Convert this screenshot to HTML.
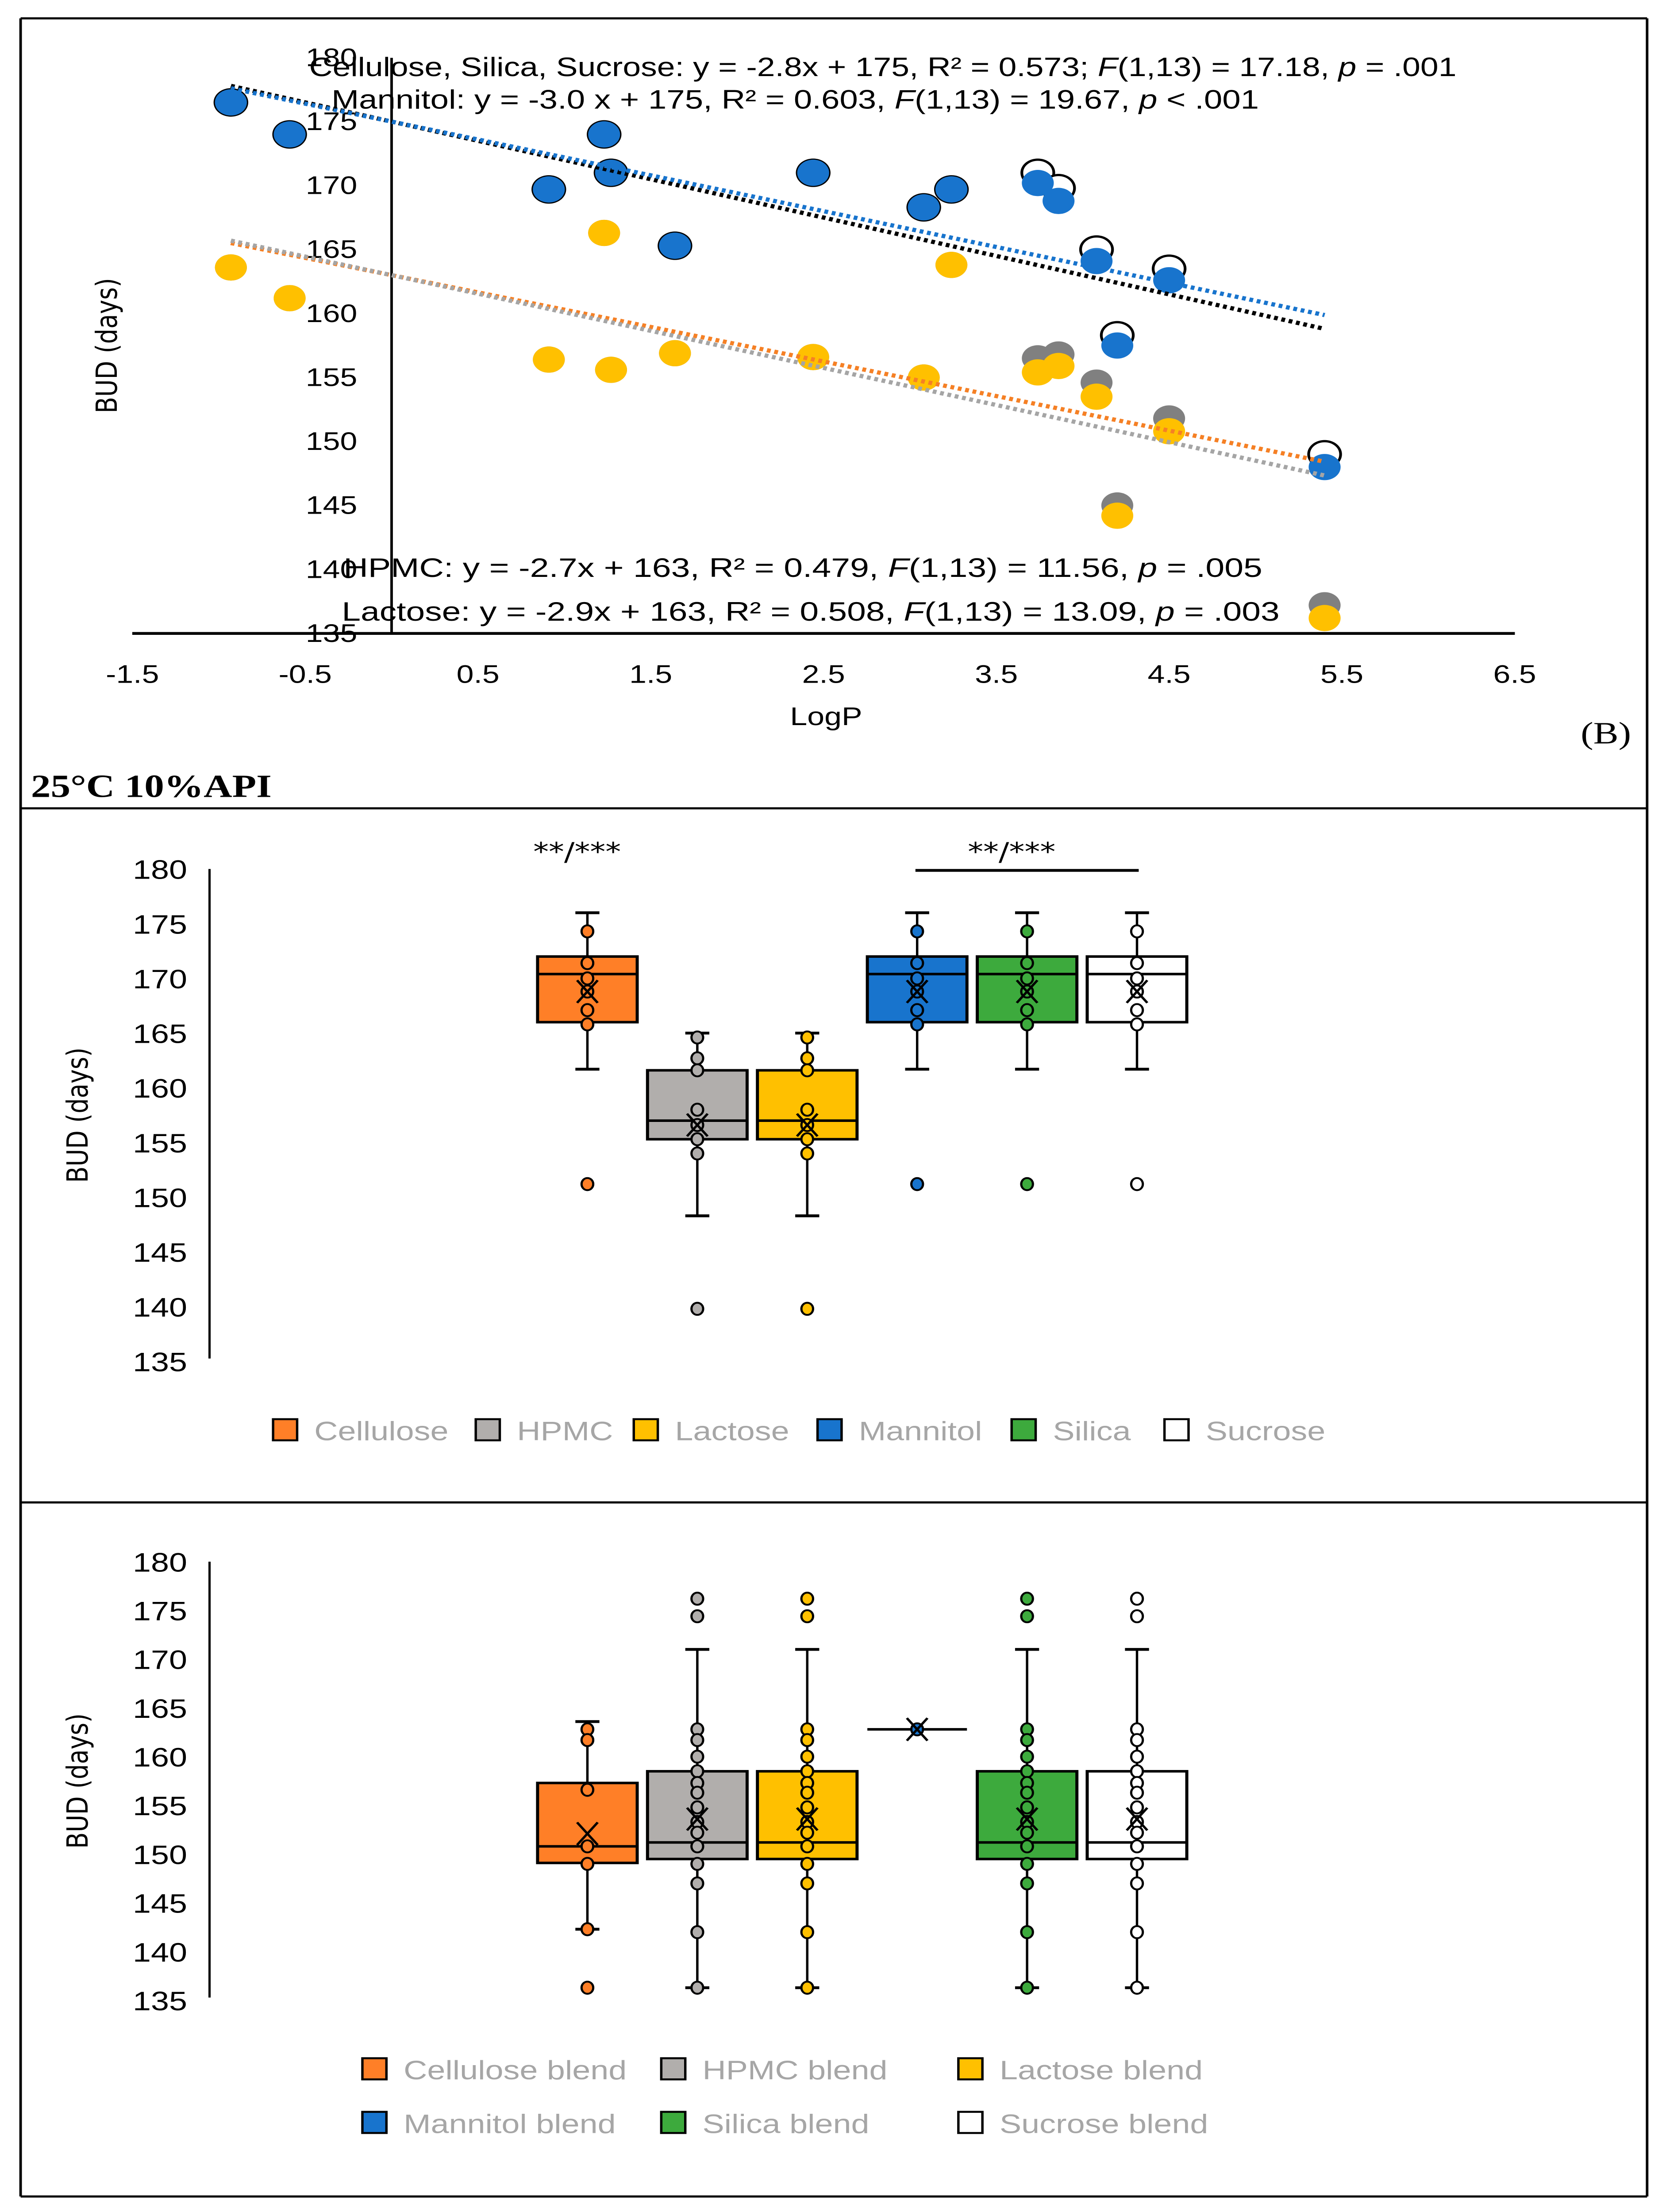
<!DOCTYPE html>
<html><head><meta charset="utf-8"><style>
html,body{margin:0;padding:0;background:#fff;width:100vw;height:100vh;overflow:hidden}
svg{display:block;width:100vw;height:100vh;position:absolute;left:0;top:0}
text{font-family:"Liberation Sans Narrow","Liberation Sans",sans-serif}
</style></head><body>
<svg id="s" viewBox="0 0 970 1568" preserveAspectRatio="none" xmlns="http://www.w3.org/2000/svg">
<rect x="0" y="0" width="970" height="1568" fill="#fff"/>
<g stroke="#000" stroke-width="1.5" fill="none">
<line x1="12" y1="13" x2="959" y2="13"/><line x1="12" y1="13" x2="12" y2="1557"/><line x1="959" y1="13" x2="959" y2="1557"/>
<line x1="12" y1="573" x2="959" y2="573"/><line x1="12" y1="1065" x2="959" y2="1065"/><line x1="12" y1="1557" x2="959" y2="1557"/>
</g>
<g id="scatter"></g>
<text x="935" y="527" font-size="22" text-anchor="middle" style="font-family:'Liberation Serif',serif">(B)</text>
<text x="18" y="565" font-size="23" font-weight="bold" style="font-family:'Liberation Serif',serif">25°C 10%API</text>
<g id="box1"></g>
<g id="box2"></g>
</svg>
<script>
// ---------- scatter data ----------
const logP = [-0.93,-0.59,0.91,1.23,1.27,1.64,2.44,3.08,3.24,3.74,3.86,4.08,4.2,4.5,5.4];
const mannitolBUD = [176.5,174,169.7,174,171,165.3,171,168.3,169.7,170.2,168.8,164.1,157.5,162.6,148];
const sucroseBUD  = [176.5,174,169.7,174,171,165.3,171,168.3,169.7,171,169.8,165,158.3,163.5,149];
const lactoseBUD  = [163.6,161.2,156.4,166.3,155.6,156.9,156.6,155,163.8,155.4,155.9,153.5,144.2,150.8,136.2];
const hpmcBUD     = [163.6,161.2,156.4,166.3,155.6,156.9,156.6,155,163.8,156.5,156.8,154.6,145,151.8,137.2];
const xTicks = [-1.5,-0.5,0.5,1.5,2.5,3.5,4.5,5.5,6.5];
const yTicksScatter = [135,140,145,150,155,160,165,170,175,180];
const trendSlopes = [-3.0,-2.8,-2.7,-2.9];
const trendIntercepts = [175,175,163,163];
const trendColors = ['#000','#1874CD','#F58025','#A5A5A5'];
const trendNames = ['trendline-cellulose-silica-sucrose','trendline-mannitol','trendline-hpmc','trendline-lactose'];

const NS='http://www.w3.org/2000/svg';
function mk(parent,tag,attrs,txt){const e=document.createElementNS(NS,tag);for(const k in attrs)e.setAttribute(k,attrs[k]);if(txt!==undefined)e.textContent=txt;parent.appendChild(e);return e;}

(function(){
 const g=document.getElementById('scatter');
 const X=v=>228+(v-0)*100.6;
 const Y=v=>449-(v-135)*9.07;
 let ax=mk(g,'line',{x1:77,y1:449,x2:882,y2:449,stroke:'#000','stroke-width':2});
 
 
 let ay=mk(g,'line',{x1:228,y1:41,x2:228,y2:449,stroke:'#000','stroke-width':1.5});
 
 
 xTicks.forEach(t=>{let e=mk(g,'text',{x:X(t),y:484,'font-size':18,'text-anchor':'middle'},t.toString());
  
  });
 yTicksScatter.forEach(t=>{let e=mk(g,'text',{x:208,y:Y(t)+6,'font-size':18,'text-anchor':'end'},t);
  
  });
 let xt=mk(g,'text',{x:481,y:514,'font-size':18,'text-anchor':'middle'},'LogP');
 
 
 let yt=mk(g,'text',{x:0,y:0,'font-size':17,'text-anchor':'middle',transform:'translate(68,245) rotate(-90)',style:'font-family:"DejaVu Sans",sans-serif'},'BUD (days)');
 
 
 const pts=(arr,fill,stroke,name)=>arr.forEach((v,i)=>{let c=mk(g,'circle',{cx:X(logP[i]),cy:Y(v),r:9.3,fill:fill,stroke:stroke,'stroke-width':stroke==='none'?0:1.6});
   
   });
 pts(sucroseBUD,'#fff','#000','point-sucrose');
 pts(mannitolBUD,'#1874CD','none','point-mannitol');
 pts(hpmcBUD,'#808080','none','point-hpmc');
 pts(lactoseBUD,'#FFC000','none','point-lactose');
 const x0=logP[0],x1=logP[logP.length-1];
 trendSlopes.forEach((m,i)=>{let l=mk(g,'line',{x1:X(x0),y1:Y(m*x0+trendIntercepts[i]),x2:X(x1),y2:Y(m*x1+trendIntercepts[i]),stroke:trendColors[i],'stroke-width':3,'stroke-dasharray':'2.2 2.2'});
  
  });
 const eq=[[180,54,668,'Cellulose, Silica, Sucrose: y = -2.8x + 175, R² = 0.573; ','17.18',' = .001','equation-cellulose'],
   [193,77,540,'Mannitol: y = -3.0 x + 175, R² = 0.603, ','19.67',' < .001','equation-mannitol'],
   [200,409,535,'HPMC: y = -2.7x + 163, R² = 0.479, ','11.56',' = .005','equation-hpmc'],
   [199,440,546,'Lactose: y = -2.9x + 163, R² = 0.508, ','13.09',' = .003','equation-lactose']];
 eq.forEach(q=>{let t=mk(g,'text',{x:q[0],y:q[1],'font-size':19,textLength:q[2],lengthAdjust:'spacingAndGlyphs'});
  
  
  mk(t,'tspan',{},q[3]);mk(t,'tspan',{'font-style':'italic'},'F');mk(t,'tspan',{},'(1,13) = '+q[4]+', ');mk(t,'tspan',{'font-style':'italic'},'p');mk(t,'tspan',{},q[5]);});
})();

// ---------- boxplot data ----------
const apiNames = ['Cellulose','HPMC','Lactose','Mannitol','Silica','Sucrose'];
const boxColors = ['#FF7F27','#B1AEAC','#FFC000','#1874CD','#3DAA3D','#FFFFFF'];
const apiQ1 = [166,155.3,155.3,166,166,166];
const apiMedian = [170.4,157,157,170.4,170.4,170.4];
const apiQ3 = [172,161.6,161.6,172,172,172];
const apiWhiskLo = [161.7,148.3,148.3,161.7,161.7,161.7];
const apiWhiskHi = [176,165,165,176,176,176];
const apiMean = [168.8,156.6,156.6,168.8,168.8,168.8];
const apiPointsA = [174.3,171.4,170,168.8,167.1,165.8,151.2];
const apiPointsB = [164.6,162.7,161.6,158,156.6,155.3,154,139.8];
const apiPoints = [apiPointsA,apiPointsB,apiPointsB,apiPointsA,apiPointsA,apiPointsA];
const yTicksBox = [135,140,145,150,155,160,165,170,175,180];

const blendNames = ['Cellulose blend','HPMC blend','Lactose blend','Mannitol blend','Silica blend','Sucrose blend'];
const blendQ1 = [149.1,149.5,149.5,162.8,149.5,149.5];
const blendMedian = [150.8,151.2,151.2,162.8,151.2,151.2];
const blendQ3 = [157.3,158.5,158.5,162.8,158.5,158.5];
const blendWhiskLo = [142.3,136.3,136.3,162.8,136.3,136.3];
const blendWhiskHi = [163.6,171,171,162.8,171,171];
const blendMean = [152.1,153.6,153.6,162.8,153.6,153.6];
const blendPointsA = [162.8,161.7,156.6,150.8,149,142.3,136.3];
const blendPointsB = [176.2,174.4,162.8,161.7,160,158.5,157.3,156.3,154.8,153.3,152.2,150.8,149,147,142,136.3];
const blendPoints = [blendPointsA,blendPointsB,blendPointsB,[162.8],blendPointsB,blendPointsB];

function boxplot(g,y180,y135,names,q1,med,q3,lo,hi,mean,points,legend){
 const Y=v=>y135-(v-135)*(y135-y180)/45;
 const cx=i=>342+i*64, hw=29;
 let ay=mk(g,'line',{x1:122,y1:y180,x2:122,y2:y135-2,stroke:'#000','stroke-width':1.3});
 
 
 yTicksBox.forEach(t=>{let e=mk(g,'text',{x:109,y:Y(t)+7,'font-size':19,'text-anchor':'end'},t);
  
  });
 let yt=mk(g,'text',{x:0,y:0,'font-size':17,'text-anchor':'middle',transform:'translate(51,'+((y180+y135)/2)+') rotate(-90)',style:'font-family:"DejaVu Sans",sans-serif'},'BUD (days)');
 
 
 names.forEach((n,i)=>{
  const c=cx(i);
  const bg=mk(g,'g',{});
  
  
  mk(bg,'line',{x1:c,y1:Y(hi[i]),x2:c,y2:Y(lo[i]),stroke:'#000','stroke-width':1.4});
  if(hi[i]!==lo[i]){
   mk(bg,'line',{x1:c-7,y1:Y(hi[i]),x2:c+7,y2:Y(hi[i]),stroke:'#000','stroke-width':2});
   mk(bg,'line',{x1:c-7,y1:Y(lo[i]),x2:c+7,y2:Y(lo[i]),stroke:'#000','stroke-width':2});
  }
  mk(bg,'rect',{x:c-hw,y:Y(q3[i]),width:2*hw,height:Math.max(0,Y(q1[i])-Y(q3[i])),fill:boxColors[i],stroke:'#000','stroke-width':1.8});
  mk(bg,'line',{x1:c-hw,y1:Y(med[i]),x2:c+hw,y2:Y(med[i]),stroke:'#000','stroke-width':1.8});
  points[i].forEach(v=>{let p=mk(bg,'ellipse',{cx:c,cy:Y(v),rx:3.4,ry:4.3,fill:boxColors[i],stroke:'#000','stroke-width':1.3});
   
   });
  const m=Y(mean[i]);
  mk(bg,'path',{d:`M${c-6},${m-8}L${c+6},${m+8}M${c+6},${m-8}L${c-6},${m+8}`,stroke:'#000','stroke-width':1.5,fill:'none'});
 });
 legend.forEach((L,i)=>{const lg=mk(g,'g',{});
  
  
  mk(lg,'rect',{x:L[0],y:L[1]-8,width:14,height:15,fill:boxColors[i],stroke:'#000','stroke-width':1.4});
  mk(lg,'text',{x:L[0]+24,y:L[1]+7,'font-size':19,fill:'#A6A6A6'},names[i]);});
}
boxplot(document.getElementById('box1'),616,965,apiNames,apiQ1,apiMedian,apiQ3,apiWhiskLo,apiWhiskHi,apiMean,apiPoints,
 [[159,1014],[277,1014],[369,1014],[476,1014],[589,1014],[678,1014]]);
boxplot(document.getElementById('box2'),1107,1418,blendNames,blendQ1,blendMedian,blendQ3,blendWhiskLo,blendWhiskHi,blendMean,blendPoints,
 [[211,1467],[385,1467],[558,1467],[211,1505],[385,1505],[558,1505]]);
(function(){const g=document.getElementById('box1');
 let a=mk(g,'text',{x:336,y:610,'font-size':18,'text-anchor':'middle',style:'font-family:"DejaVu Sans",sans-serif'},'**/***');
 
 
 let b=mk(g,'text',{x:589,y:610,'font-size':18,'text-anchor':'middle',style:'font-family:"DejaVu Sans",sans-serif'},'**/***');
 
 
 let l=mk(g,'line',{x1:533,y1:617,x2:663,y2:617,stroke:'#000','stroke-width':2});
 
 
})();
</script>
</body></html>
